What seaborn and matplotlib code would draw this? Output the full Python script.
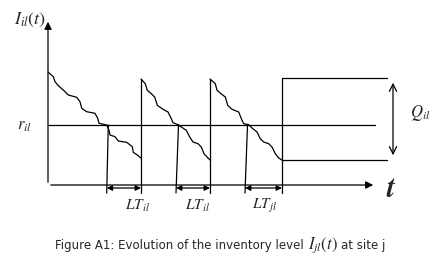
import pandas as pd
import matplotlib
matplotlib.use("Agg")
import matplotlib.pyplot as plt
import seaborn as sns

# inventory path, three replenishment cycles (t, I)
cycle1_t = [0, 5.3, 7, 10.3, 15.3, 20.3, 28.7, 32, 33.7, 38.7, 47, 49.7, 51, 58.7,
            61, 62, 67, 70.3, 78.7, 84.3, 85.3, 90.3, 93]
cycle1_I = [113, 108.3, 103.3, 99.3, 95, 90, 87.7, 83.3, 76.7, 73.3, 71.7, 66.7, 61.7, 60,
            55, 50, 48.3, 44, 42.7, 38.3, 32.7, 29.3, 26.7]
cycle2_t = [93, 97.3, 99.3, 103.3, 106.7, 109.3, 115, 120, 123.3, 125, 130, 133.3,
            138.3, 141.7, 145, 150, 153.3, 156, 160, 162]
cycle2_I = [106, 101.3, 94.7, 91.3, 88, 79.7, 75.7, 73, 66.3, 62.3, 60.3, 58,
            54.7, 48, 43, 41.3, 38, 31.3, 27, 25]
cycle3_t = [162, 167.3, 169, 173, 177.3, 179.7, 184, 190.7, 194, 195.7, 200.7, 204,
            209, 212.3, 215.7, 220.7, 224, 227.3, 230.7, 234]
cycle3_I = [106, 101.3, 94.7, 91.3, 88, 79.7, 75.7, 73, 64.7, 61.3, 60.3, 57,
            53, 46.3, 43, 41.3, 38, 31.3, 27, 25]

reorder_level = 60
order_top = 107
order_bottom = 25
t_end = 339
jump_t = [93, 162, 234]
jump_top = [106, 106, 107]
reorder_top_t = [60.3, 130.5, 199.5]
reorder_bot_t = [58.7, 128, 197]
lt_start = [58.7, 128, 197]
lt_end = [93, 162, 234]
lt_labels = [r"$LT_{il}$", r"$LT_{il}$", r"$LT_{jl}$"]
lt_label_t = [90, 150, 217]

rows = []
for k, (ts, Is) in enumerate([(cycle1_t, cycle1_I), (cycle2_t, cycle2_I), (cycle3_t, cycle3_I)]):
    for t, v in zip(ts, Is):
        rows.append({"t": t, "I": v, "cycle": k})
df = pd.DataFrame(rows)

sns.set_style("white")
plt.rcParams["mathtext.fontset"] = "stix"
plt.rcParams["font.family"] = ["DejaVu Sans"]

fig = plt.figure(figsize=(4.4, 2.64), dpi=100)
ax = fig.add_axes([0, 0, 1, 1])
lw = 0.9

sns.lineplot(data=df, x="t", y="I", units="cycle", estimator=None, sort=False,
             color="black", linewidth=lw, ax=ax)

# axes with arrows
ax.annotate("", xy=(0, 166), xytext=(0, 0),
            arrowprops=dict(arrowstyle="-|>", color="black", lw=lw, mutation_scale=11))
ax.annotate("", xy=(328, 0), xytext=(0, 0),
            arrowprops=dict(arrowstyle="-|>", color="black", lw=lw, mutation_scale=11))

# replenishment jumps
for t, top in zip(jump_t, jump_top):
    ax.plot([t, t], [-8, top], color="black", lw=lw)
# order placed at reorder point
for t0, t1 in zip(reorder_top_t, reorder_bot_t):
    ax.plot([t0, t1], [reorder_level, -8], color="black", lw=lw)

ax.plot([0, 327], [reorder_level, reorder_level], color="black", lw=lw)
ax.plot([jump_t[-1], t_end], [order_top, order_top], color="black", lw=lw)
ax.plot([jump_t[-1], t_end], [order_bottom, order_bottom], color="black", lw=lw)

ax.annotate("", xy=(345, order_top - 2), xytext=(345, order_bottom + 2),
            arrowprops=dict(arrowstyle="<->", color="black", lw=lw, mutation_scale=13))

for a, b, lab, lt in zip(lt_start, lt_end, lt_labels, lt_label_t):
    ax.annotate("", xy=(a, -3), xytext=(b, -3),
                arrowprops=dict(arrowstyle="<|-|>", color="black", lw=lw,
                                mutation_scale=8, shrinkA=0, shrinkB=0))
    ax.text(lt, -21, lab, fontsize=11, ha="center", va="center")

ax.text(-34, 165, r"$I_{il}(t)$", fontsize=13, ha="left", va="center")
ax.text(-31, reorder_level, r"$r_{il}$", fontsize=12, ha="left", va="center")
ax.text(362, 72, r"$Q_{il}$", fontsize=12, ha="left", va="center")
ax.text(342, -4, "t", fontsize=21, fontfamily="STIXGeneral", fontweight="bold",
        fontstyle="italic", ha="center", va="center")

# caption in three pieces so the symbol can be larger
cap1 = ax.text(7, -60, "Figure A1: Evolution of the inventory level",
               fontsize=8.5, ha="left", va="center")
cap2 = ax.annotate(r"$I_{jl}(t)$", xy=(1, 0.5), xycoords=cap1, xytext=(3, 0),
                   textcoords="offset points", fontsize=12, ha="left", va="center")
ax.annotate("at site j", xy=(1, 0.5), xycoords=cap2, xytext=(2, 0),
            textcoords="offset points", fontsize=8.5, ha="left", va="center")

ax.set_xlim(-48, 392)
ax.set_ylim(-79, 185)
ax.axis("off")
fig.savefig("out.png", dpi=100)
